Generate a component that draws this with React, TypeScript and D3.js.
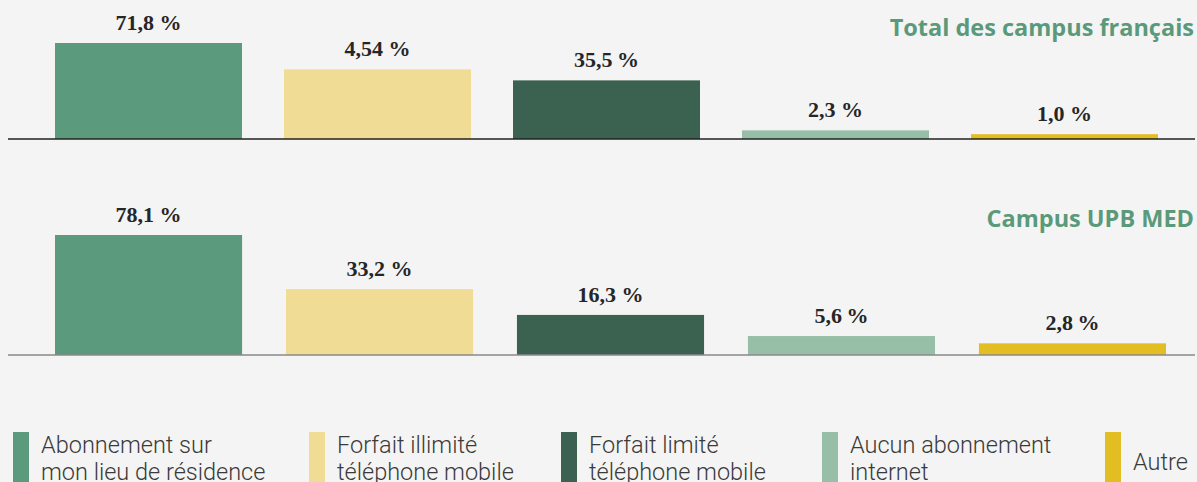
import React from "react";
import * as d3 from "d3";

const categories = [
  "Abonnement sur mon lieu de résidence",
  "Forfait illimité téléphone mobile",
  "Forfait limité téléphone mobile",
  "Aucun abonnement internet",
  "Autre",
];
const legendLines = [
  ["Abonnement sur", "mon lieu de résidence"],
  ["Forfait illimité", "téléphone mobile"],
  ["Forfait limité", "téléphone mobile"],
  ["Aucun abonnement", "internet"],
  ["Autre"],
];
const colors = ["#5b9a7c", "#f0dc94", "#3b6150", "#97bfa8", "#e3be22"];

const topTitle = "Total des campus français";
const topValues = [71.8, 45.4, 35.5, 2.3, 1.0];
const topLabels = ["71,8 %", "4,54 %", "35,5\u2009%", "2,3 %", "1,0 %"];

const bottomTitle = "Campus UPB MED";
const bottomValues = [78.1, 33.2, 16.3, 5.6, 2.8];
const bottomLabels = ["78,1 %", "33,2 %", "16,3 %", "5,6\u2009%", "2,8\u2009%"];

const W = 1197;
const H = 482;
const legendX = [13, 309, 561, 822, 1105];

function Panel({ values, labels, title, baseY, x0, x1, pad, maxH, lineColor, titleY }) {
  const x = d3.scaleBand().domain(categories).range([x0, x1]).paddingInner(pad).paddingOuter(0);
  const y = d3.scalePow().exponent(0.7).domain([0, d3.max(values)]).range([0, maxH]);
  return (
    <g>
      {categories.map((c, i) => (
        <rect key={c} x={x(c)} y={baseY - y(values[i])} width={x.bandwidth()} height={y(values[i])} fill={colors[i]} />
      ))}
      <line x1={8} x2={1195} y1={baseY} y2={baseY} stroke={lineColor} strokeWidth={1.5} />
      {categories.map((c, i) => (
        <text
          key={c + "l"}
          x={x(c) + x.bandwidth() / 2}
          y={baseY - y(values[i]) - 13}
          textAnchor="middle"
          fontFamily="'Liberation Serif', serif"
          fontWeight={700}
          fontSize={22}
          fill="#262626"
        >
          {labels[i]}
        </text>
      ))}
      <text x={1194} y={titleY} textAnchor="end" fontFamily="'Open Sans', sans-serif" fontWeight={700} fontSize={23.5} fill="#5a9a7a">
        {title}
      </text>
    </g>
  );
}

export default function App() {
  return (
    <svg width={W} height={H} style={{ position: "absolute", left: 0, top: 0, display: "block" }}>
      <rect x={0} y={0} width={W} height={H} fill="#f4f4f4" />
      <Panel values={topValues} labels={topLabels} title={topTitle} baseY={139} x0={55} x1={1158} pad={0.1834} maxH={96} lineColor="#222" titleY={36} />
      <Panel values={bottomValues} labels={bottomLabels} title={bottomTitle} baseY={355} x0={55} x1={1166} pad={0.19} maxH={120} lineColor="#8a8a8a" titleY={227} />
      {categories.map((c, i) => (
        <g key={c + "g"}>
          <rect x={legendX[i]} y={432} width={16} height={60} fill={colors[i]} />
          {legendLines[i].map((t, j) => (
            <text
              key={j}
              x={legendX[i] + 28}
              y={legendLines[i].length === 1 ? 470 : 453 + j * 27}
              fontFamily="Roboto, sans-serif"
              fontWeight={300}
              fontSize={23.5}
              fill="#3a3a3a"
            >
              {t}
            </text>
          ))}
        </g>
      ))}
    </svg>
  );
}
